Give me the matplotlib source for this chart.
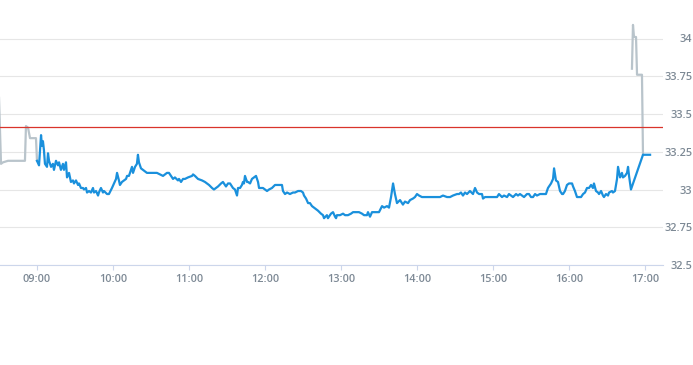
import matplotlib.pyplot as plt

# minutes after 09:00 and price, regular session (blue)
t_blue = [0.0, 1.6, 3.2, 3.9, 4.7, 5.5, 6.3, 7.9, 8.7, 9.5, 11.1, 12.6, 13.4, 15.0, 16.6, 17.4,
          18.9, 20.5, 21.3, 22.9, 23.7, 25.3, 26.8, 28.4, 29.2, 30.8, 32.4, 33.2, 34.7, 36.3, 37.1,
          38.7, 39.5, 41.1, 42.6, 44.2, 45.0, 46.6, 48.2, 48.9, 50.5, 52.1, 52.9, 55.3, 56.8, 59.2,
          60.8, 62.4, 63.2, 64.7, 65.5, 67.1, 68.7, 70.3, 71.1, 72.6, 75.0, 75.8, 77.4, 78.9, 79.7,
          80.5, 82.1, 83.7, 86.8, 89.2, 91.6, 94.7, 97.1, 99.5, 102.6, 104.2, 105.8, 107.4, 108.9,
          111.3, 112.1, 113.7, 115.3, 116.8, 119.2, 122.4, 123.2, 124.7, 127.1, 130.3, 132.6, 134.2,
          135.8, 138.2, 139.7, 141.3, 142.9, 145.3, 146.8, 147.6, 149.2, 150.8, 152.4, 154.7, 156.3,
          157.9, 158.7, 160.3, 161.8, 162.6, 163.4, 164.2, 165.8, 166.6, 168.2, 169.7, 171.3, 172.9,
          174.5, 175.3, 176.8, 178.4, 180.0, 181.6, 183.2, 185.5, 187.9, 190.3, 193.4, 194.2, 195.8,
          197.4, 199.7, 202.1, 203.7, 206.1, 208.4, 210.0, 210.8, 212.4, 214.0, 215.5, 217.1, 218.7,
          220.3, 221.8, 224.2, 225.8, 226.6, 228.9, 229.7, 232.1, 233.7, 235.3, 236.1, 236.8, 239.2,
          241.6, 243.2, 245.5, 247.9, 249.5, 251.8, 254.2, 256.6, 258.2, 260.5, 261.3, 262.9, 264.5,
          266.8, 268.4, 270.0, 272.4, 274.0, 276.3, 277.9, 279.5, 281.1, 282.6, 284.2, 286.6, 288.9,
          290.5, 292.9, 294.5, 296.8, 298.4, 300.0, 301.6, 303.9, 305.5, 307.9, 310.3, 312.6, 315.8,
          318.2, 320.5, 323.7, 326.1, 328.4, 331.6, 333.2, 334.7, 336.3, 337.9, 339.5, 341.8, 344.2,
          345.8, 347.4, 349.0, 351.3, 352.1, 353.7, 355.3, 357.6, 360.0, 361.6, 363.2, 364.7, 367.1,
          368.7, 371.1, 372.6, 374.2, 375.8, 378.2, 379.7, 381.3, 382.9, 384.5, 386.8, 388.4, 390.0,
          391.6, 393.2, 394.7, 397.1, 399.5, 401.8, 403.4, 405.8, 407.4, 408.2, 409.7, 411.3, 412.9,
          414.5, 415.3, 416.8, 418.4, 420.0, 422.4, 423.2, 424.7, 426.3, 427.1, 429.5, 431.1, 432.6,
          434.2, 435.8, 437.4, 438.9, 439.7, 441.3, 442.9, 443.7, 445.3, 446.8, 447.6, 449.2, 450.8,
          451.6, 453.9, 454.7, 456.3, 457.9, 458.7, 460.3, 461.8, 462.6, 464.2, 465.8, 466.6, 467.4,
          468.9, 478.4, 480.0, 484.0]
p_blue = [33.19, 33.16, 33.36, 33.29, 33.32, 33.26, 33.17, 33.15, 33.24, 33.19, 33.15, 33.17, 33.13,
          33.19, 33.16, 33.18, 33.13, 33.17, 33.13, 33.18, 33.08, 33.11, 33.05, 33.06, 33.04, 33.06,
          33.03, 33.04, 33.01, 33.01, 33.00, 33.01, 32.98, 32.99, 32.98, 33.01, 32.98, 32.99, 32.96,
          32.98, 33.01, 32.98, 32.99, 32.97, 32.97, 33.01, 33.04, 33.07, 33.11, 33.06, 33.03, 33.05,
          33.06, 33.07, 33.09, 33.09, 33.15, 33.11, 33.15, 33.17, 33.23, 33.18, 33.14, 33.13, 33.11,
          33.11, 33.11, 33.11, 33.10, 33.09, 33.11, 33.11, 33.09, 33.07, 33.08, 33.06, 33.07, 33.05,
          33.07, 33.07, 33.08, 33.09, 33.10, 33.09, 33.07, 33.06, 33.05, 33.04, 33.03, 33.01, 33.00,
          33.01, 33.02, 33.04, 33.05, 33.04, 33.02, 33.04, 33.04, 33.01, 33.00, 32.96, 33.01, 33.01,
          33.03, 33.05, 33.04, 33.09, 33.05, 33.05, 33.04, 33.07, 33.08, 33.09, 33.05, 33.01, 33.01,
          33.01, 33.00, 32.99, 33.00, 33.01, 33.03, 33.03, 33.03, 32.99, 32.97, 32.98, 32.97, 32.98,
          32.98, 32.99, 32.99, 32.98, 32.96, 32.94, 32.91, 32.91, 32.89, 32.88, 32.87, 32.86, 32.84,
          32.83, 32.81, 32.83, 32.81, 32.84, 32.85, 32.82, 32.81, 32.83, 32.83, 32.84, 32.83, 32.83,
          32.84, 32.85, 32.85, 32.85, 32.84, 32.83, 32.83, 32.85, 32.82, 32.85, 32.85, 32.85, 32.85,
          32.89, 32.88, 32.89, 32.88, 32.95, 33.04, 32.97, 32.91, 32.93, 32.90, 32.92, 32.91, 32.93,
          32.94, 32.95, 32.97, 32.96, 32.95, 32.95, 32.95, 32.95, 32.95, 32.95, 32.95, 32.96, 32.95,
          32.95, 32.96, 32.97, 32.97, 32.98, 32.96, 32.98, 32.97, 32.99, 32.97, 33.01, 32.98, 32.97,
          32.97, 32.94, 32.95, 32.95, 32.95, 32.95, 32.95, 32.95, 32.97, 32.95, 32.96, 32.95, 32.97,
          32.96, 32.95, 32.97, 32.96, 32.97, 32.96, 32.95, 32.97, 32.97, 32.95, 32.95, 32.97, 32.96,
          32.97, 32.97, 32.97, 33.01, 33.04, 33.07, 33.14, 33.06, 33.05, 32.99, 32.97, 32.97, 32.99,
          33.03, 33.04, 33.04, 33.02, 32.99, 32.95, 32.95, 32.95, 32.97, 32.98, 33.01, 33.01, 33.03,
          33.01, 33.04, 32.99, 32.98, 32.97, 32.99, 32.96, 32.95, 32.97, 32.96, 32.98, 32.99, 32.98,
          32.99, 33.07, 33.15, 33.08, 33.11, 33.08, 33.09, 33.11, 33.15, 33.09, 33.00, 33.23, 33.23,
          33.23]

# extended hours (grey)
t_pre = [-30.0, -28.4, -26.8, -22.9, -9.5, -8.7, -7.1, -5.5, -0.8, 0.0]
p_pre = [33.61, 33.17, 33.18, 33.19, 33.19, 33.42, 33.41, 33.34, 33.34, 33.19]
t_post = [469.7, 470.5, 471.3, 472.9, 473.7, 477.6, 478.4]
p_post = [33.80, 34.09, 34.01, 34.01, 33.76, 33.76, 33.23]

prev_close = 33.415

x_ticks = [0, 60, 120, 180, 240, 300, 360, 420, 480]
x_labels = ['09:00', '10:00', '11:00', '12:00', '13:00', '14:00', '15:00', '16:00', '17:00']
y_ticks = [32.5, 32.75, 33, 33.25, 33.5, 33.75, 34]
y_labels = ['32.5', '32.75', '33', '33.25', '33.5', '33.75', '34']

plt.rcParams['font.family'] = ['Open Sans', 'DejaVu Sans']
fig = plt.figure(figsize=(6.93, 3.65), dpi=100)
ax = fig.add_axes([0, 100 / 365, 663 / 693, 257 / 365])

ax.plot(t_pre, p_pre, color='#b9c4cb', lw=1.6, solid_joinstyle='round', zorder=3)
ax.plot(t_post, p_post, color='#b9c4cb', lw=1.6, solid_joinstyle='round', zorder=3)
ax.plot(t_blue, p_blue, color='#1a90dc', lw=1.6, solid_joinstyle='round', zorder=4)
ax.axhline(prev_close, color='#d9342b', lw=0.9, zorder=5)

ax.set_xlim(-29.2, 494.2)
ax.set_ylim(32.5, 32.5 + 257 / 151)

ax.set_yticks(y_ticks)
ax.set_yticklabels(y_labels)
ax.yaxis.tick_right()
ax.tick_params(axis='y', length=0, pad=21, labelsize=7.8, labelcolor='#7d8995')
for lab in ax.get_yticklabels():
    lab.set_horizontalalignment('right')
    lab.set_fontweight('semibold')
ax.set_xticks(x_ticks)
ax.set_xticklabels(x_labels)
ax.tick_params(axis='x', length=3.5, width=0.8, color='#ccd6eb', pad=3, labelsize=7.8,
               labelcolor='#7d8995')
for lab in ax.get_xticklabels():
    lab.set_fontweight('semibold')
ax.grid(axis='y', color='#e6e6e6', lw=0.8)
ax.set_axisbelow(True)
for s in ['top', 'left', 'right']:
    ax.spines[s].set_visible(False)
ax.spines['bottom'].set_color('#ccd6eb')
ax.spines['bottom'].set_linewidth(0.8)

fig.savefig('out.png', dpi=100)
